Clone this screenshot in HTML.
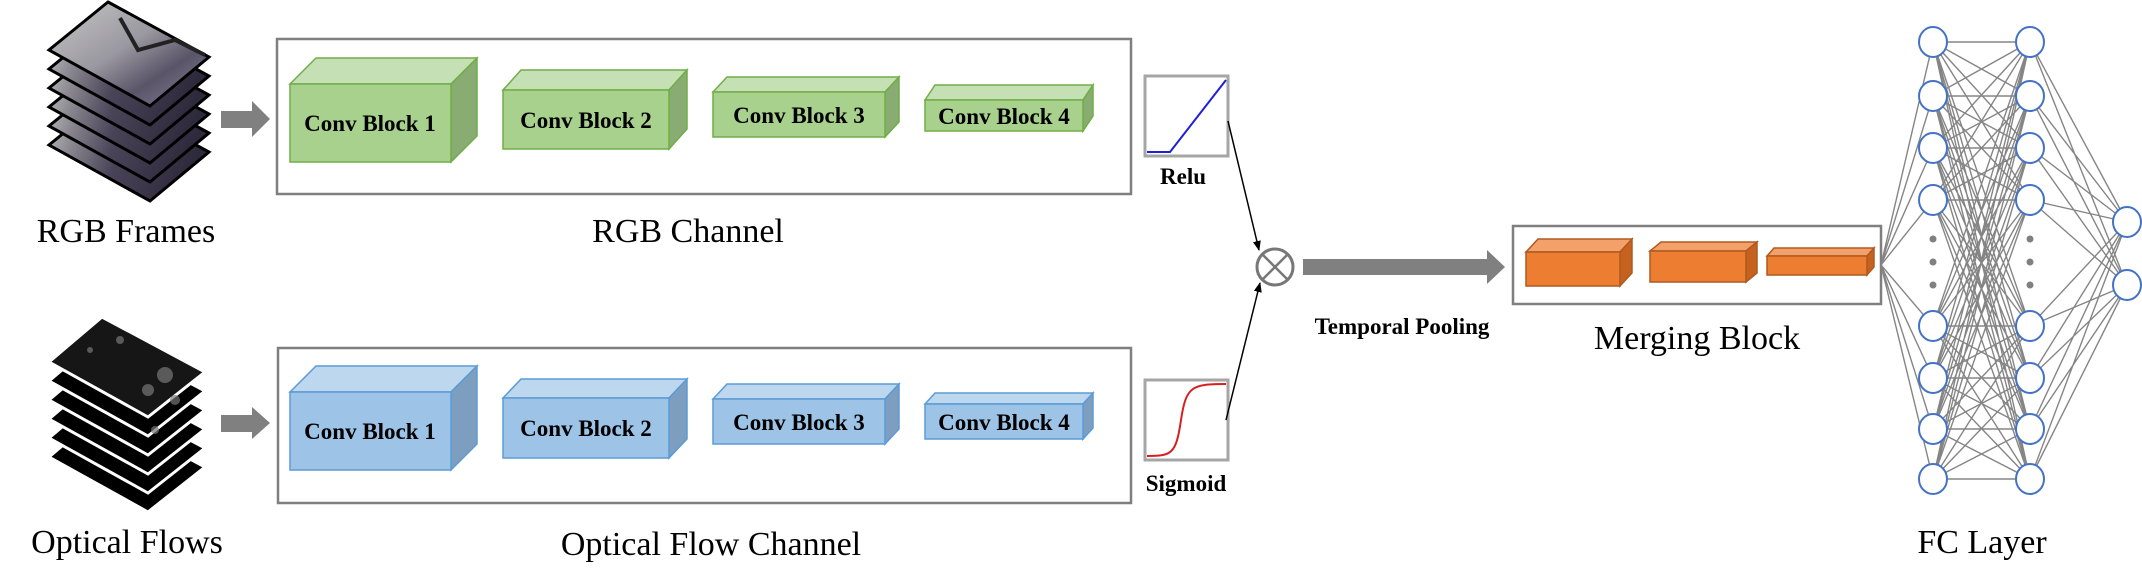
<!DOCTYPE html>
<html><head><meta charset="utf-8"><style>
html,body{margin:0;padding:0;background:#fff;}
svg{display:block;font-family:"Liberation Serif",serif;}
</style></head><body>
<svg width="2142" height="588" viewBox="0 0 2142 588" xmlns="http://www.w3.org/2000/svg">
<defs>
<linearGradient id="rg" x1="0" y1="0" x2="1" y2="0.3"><stop offset="0" stop-color="#d0d0d0"/><stop offset="0.25" stop-color="#8a8890"/><stop offset="0.55" stop-color="#4a4458"/><stop offset="1" stop-color="#2e2a3c"/></linearGradient>
<linearGradient id="rgt" x1="0" y1="0" x2="1" y2="1"><stop offset="0" stop-color="#c8c8c8"/><stop offset="0.45" stop-color="#9a98a0"/><stop offset="0.7" stop-color="#5a5468"/><stop offset="1" stop-color="#8a86a0"/></linearGradient>
<marker id="ah" markerWidth="10" markerHeight="10" refX="9" refY="5" orient="auto" markerUnits="userSpaceOnUse"><path d="M0,1 L10,5 L0,9 z" fill="#000"/></marker>
</defs>

<!-- RGB stack -->
<g stroke="#000" stroke-width="3" fill="url(#rg)">
<polygon points="108,97 209,152 150,201 49,145"/>
<polygon points="108,78 209,133 150,182 49,126"/>
<polygon points="108,59 209,114 150,163 49,107"/>
<polygon points="108,40 209,95 150,144 49,88"/>
<polygon points="108,21 209,76 150,125 49,69"/>
<polygon points="108,2 209,57 150,106 49,50" fill="url(#rgt)"/>
</g>
<polyline points="120,18 138,50 175,40 205,55" stroke="#222" stroke-width="4" fill="none"/>

<!-- Flow stack -->
<g stroke="#fff" stroke-width="3" fill="#000">
<polygon points="102,412 205,467 148,512 49,457"/>
<polygon points="102,393 205,448 148,493 49,438"/>
<polygon points="102,374 205,429 148,474 49,419"/>
<polygon points="102,355 205,410 148,455 49,400"/>
<polygon points="102,336 205,391 148,436 49,381"/>
<polygon points="102,317 205,372 148,417 49,362" fill="#161616"/>
</g>
<g fill="#777" opacity="0.7"><circle cx="165" cy="375" r="8"/><circle cx="148" cy="390" r="6"/><circle cx="120" cy="340" r="4"/><circle cx="90" cy="350" r="3"/><circle cx="175" cy="400" r="5"/><circle cx="155" cy="430" r="4"/></g>

<!-- small arrows -->
<g fill="#808080">
<rect x="221" y="111" width="32" height="17"/><polygon points="252,101 270,119 252,137"/>
<rect x="221" y="415" width="32" height="17"/><polygon points="252,407 270,423 252,439"/>
</g>

<!-- channel boxes -->
<rect x="277" y="39" width="854" height="155" fill="none" stroke="#7f7f7f" stroke-width="2.5"/>
<rect x="278" y="348" width="853" height="155" fill="none" stroke="#7f7f7f" stroke-width="2.5"/>

<!-- green cubes -->
<g stroke="#70ad47" stroke-width="1.5">
<polygon points="290,84 316,58 477,58 451,84" fill="#c5e0b4"/><polygon points="451,84 477,58 477,136 451,162" fill="#88ac72"/><rect x="290" y="84" width="161" height="78" fill="#a9d18e"/>
<polygon points="503,90 521,70 687,70 669,90" fill="#c5e0b4"/><polygon points="669,90 687,70 687,129 669,149" fill="#88ac72"/><rect x="503" y="90" width="166" height="59" fill="#a9d18e"/>
<polygon points="713,92 727,77 899,77 885,92" fill="#c5e0b4"/><polygon points="885,92 899,77 899,122 885,137" fill="#88ac72"/><rect x="713" y="92" width="172" height="45" fill="#a9d18e"/>
<polygon points="925,100 935,85 1093,85 1083,100" fill="#c5e0b4"/><polygon points="1083,100 1093,85 1093,116 1083,131" fill="#88ac72"/><rect x="925" y="100" width="158" height="31" fill="#a9d18e"/>
</g>
<!-- blue cubes -->
<g stroke="#5b9bd5" stroke-width="1.5">
<polygon points="290,392 316,366 477,366 451,392" fill="#bdd7ee"/><polygon points="451,392 477,366 477,444 451,470" fill="#7e9ec0"/><rect x="290" y="392" width="161" height="78" fill="#9dc3e6"/>
<polygon points="503,398 521,379 687,379 669,398" fill="#bdd7ee"/><polygon points="669,398 687,379 687,439 669,458" fill="#7e9ec0"/><rect x="503" y="398" width="166" height="60" fill="#9dc3e6"/>
<polygon points="713,399 727,384 899,384 885,399" fill="#bdd7ee"/><polygon points="885,399 899,384 899,429 885,444" fill="#7e9ec0"/><rect x="713" y="399" width="172" height="45" fill="#9dc3e6"/>
<polygon points="925,404 935,393 1093,393 1083,404" fill="#bdd7ee"/><polygon points="1083,404 1093,393 1093,428 1083,439" fill="#7e9ec0"/><rect x="925" y="404" width="158" height="35" fill="#9dc3e6"/>
</g>
<g font-size="23" font-weight="bold" text-anchor="middle" fill="#000">
<text x="370" y="131">Conv Block 1</text>
<text x="586" y="128">Conv Block 2</text>
<text x="799" y="123">Conv Block 3</text>
<text x="1004" y="124">Conv Block 4</text>
<text x="370" y="439">Conv Block 1</text>
<text x="586" y="436">Conv Block 2</text>
<text x="799" y="430">Conv Block 3</text>
<text x="1004" y="430">Conv Block 4</text>
</g>
<g font-size="34" text-anchor="middle" fill="#000">
<text x="126" y="242">RGB Frames</text>
<text x="688" y="242">RGB Channel</text>
<text x="127" y="553">Optical Flows</text>
<text x="711" y="555">Optical Flow Channel</text>
<text x="1697" y="349">Merging Block</text>
<text x="1982" y="553">FC Layer</text>
</g>

<!-- activation boxes -->
<rect x="1145" y="76" width="83" height="80" fill="#fff" stroke="#a6a6a6" stroke-width="3"/>
<polyline points="1147,152 1170,152 1226,80" fill="none" stroke="#1f1fd6" stroke-width="2"/>
<rect x="1145" y="380" width="83" height="80" fill="#fff" stroke="#a6a6a6" stroke-width="3"/>
<path d="M1147,456 C1172,456 1176,454 1181,420 C1186,386 1192,384 1226,384" fill="none" stroke="#d62020" stroke-width="2"/>
<g font-size="23" font-weight="bold" text-anchor="middle">
<text x="1183" y="184">Relu</text>
<text x="1186" y="491">Sigmoid</text>
<text x="1402" y="334">Temporal Pooling</text>
</g>

<!-- otimes -->
<line x1="1228" y1="121" x2="1259" y2="250" stroke="#000" stroke-width="1.5" marker-end="url(#ah)"/>
<line x1="1226" y1="420" x2="1260" y2="283" stroke="#000" stroke-width="1.5" marker-end="url(#ah)"/>
<circle cx="1275" cy="267" r="18" fill="#fff" stroke="#777" stroke-width="3"/>
<line x1="1262" y1="254" x2="1288" y2="280" stroke="#777" stroke-width="2.5"/>
<line x1="1288" y1="254" x2="1262" y2="280" stroke="#777" stroke-width="2.5"/>

<!-- big arrow -->
<rect x="1303" y="259" width="186" height="16" fill="#808080"/>
<polygon points="1487,250 1505,267 1487,284" fill="#808080"/>

<!-- merging -->
<rect x="1513" y="226" width="368" height="78" fill="none" stroke="#7f7f7f" stroke-width="2.5"/>
<g stroke="#ae5a21" stroke-width="1.5">
<polygon points="1526,252 1538,239 1632,239 1620,252" fill="#f4a06a"/><polygon points="1620,252 1632,239 1632,273 1620,286" fill="#c5621f"/><rect x="1526" y="252" width="94" height="34" fill="#ed7d31"/>
<polygon points="1650,251 1661,242 1757,242 1746,251" fill="#f4a06a"/><polygon points="1746,251 1757,242 1757,273 1746,282" fill="#c5621f"/><rect x="1650" y="251" width="96" height="31" fill="#ed7d31"/>
<polygon points="1767,256 1774,248 1874,248 1867,256" fill="#f4a06a"/><polygon points="1867,256 1874,248 1874,267 1867,275" fill="#c5621f"/><rect x="1767" y="256" width="100" height="19" fill="#ed7d31"/>
</g>

<!-- FC connections -->
<g stroke="#858585" stroke-width="1.4" fill="none">
<path d="M1881 265L1933 42M1881 265L1933 96M1881 265L1933 148M1881 265L1933 200M1881 265L1933 326M1881 265L1933 378M1881 265L1933 429M1881 265L1933 479"/>
<path d="M1933 42L2030 42M1933 42L2030 96M1933 42L2030 148M1933 42L2030 200M1933 42L2030 326M1933 42L2030 378M1933 42L2030 429M1933 42L2030 479
M1933 96L2030 42M1933 96L2030 96M1933 96L2030 148M1933 96L2030 200M1933 96L2030 326M1933 96L2030 378M1933 96L2030 429M1933 96L2030 479
M1933 148L2030 42M1933 148L2030 96M1933 148L2030 148M1933 148L2030 200M1933 148L2030 326M1933 148L2030 378M1933 148L2030 429M1933 148L2030 479
M1933 200L2030 42M1933 200L2030 96M1933 200L2030 148M1933 200L2030 200M1933 200L2030 326M1933 200L2030 378M1933 200L2030 429M1933 200L2030 479
M1933 326L2030 42M1933 326L2030 96M1933 326L2030 148M1933 326L2030 200M1933 326L2030 326M1933 326L2030 378M1933 326L2030 429M1933 326L2030 479
M1933 378L2030 42M1933 378L2030 96M1933 378L2030 148M1933 378L2030 200M1933 378L2030 326M1933 378L2030 378M1933 378L2030 429M1933 378L2030 479
M1933 429L2030 42M1933 429L2030 96M1933 429L2030 148M1933 429L2030 200M1933 429L2030 326M1933 429L2030 378M1933 429L2030 429M1933 429L2030 479
M1933 479L2030 42M1933 479L2030 96M1933 479L2030 148M1933 479L2030 200M1933 479L2030 326M1933 479L2030 378M1933 479L2030 429M1933 479L2030 479"/>
<path d="M2030 42L2127 222M2030 96L2127 222M2030 148L2127 222M2030 200L2127 222M2030 326L2127 222M2030 378L2127 222M2030 429L2127 222M2030 479L2127 222
M2030 42L2127 285M2030 96L2127 285M2030 148L2127 285M2030 200L2127 285M2030 326L2127 285M2030 378L2127 285M2030 429L2127 285M2030 479L2127 285"/>
</g>
<g stroke="#4472c4" stroke-width="2" fill="#fff">
<ellipse cx="1933" cy="42" rx="14" ry="15"/><ellipse cx="1933" cy="96" rx="14" ry="15"/><ellipse cx="1933" cy="148" rx="14" ry="15"/><ellipse cx="1933" cy="200" rx="14" ry="15"/>
<ellipse cx="1933" cy="326" rx="14" ry="15"/><ellipse cx="1933" cy="378" rx="14" ry="15"/><ellipse cx="1933" cy="429" rx="14" ry="15"/><ellipse cx="1933" cy="479" rx="14" ry="15"/>
<ellipse cx="2030" cy="42" rx="14" ry="15"/><ellipse cx="2030" cy="96" rx="14" ry="15"/><ellipse cx="2030" cy="148" rx="14" ry="15"/><ellipse cx="2030" cy="200" rx="14" ry="15"/>
<ellipse cx="2030" cy="326" rx="14" ry="15"/><ellipse cx="2030" cy="378" rx="14" ry="15"/><ellipse cx="2030" cy="429" rx="14" ry="15"/><ellipse cx="2030" cy="479" rx="14" ry="15"/>
<ellipse cx="2127" cy="222" rx="14" ry="15"/><ellipse cx="2127" cy="285" rx="14" ry="15"/>
</g>
<g fill="#808080">
<circle cx="1933" cy="239" r="3.5"/><circle cx="1933" cy="262" r="3.5"/><circle cx="1933" cy="285" r="3.5"/>
<circle cx="2030" cy="239" r="3.5"/><circle cx="2030" cy="262" r="3.5"/><circle cx="2030" cy="285" r="3.5"/>
</g>
</svg>
</body></html>
